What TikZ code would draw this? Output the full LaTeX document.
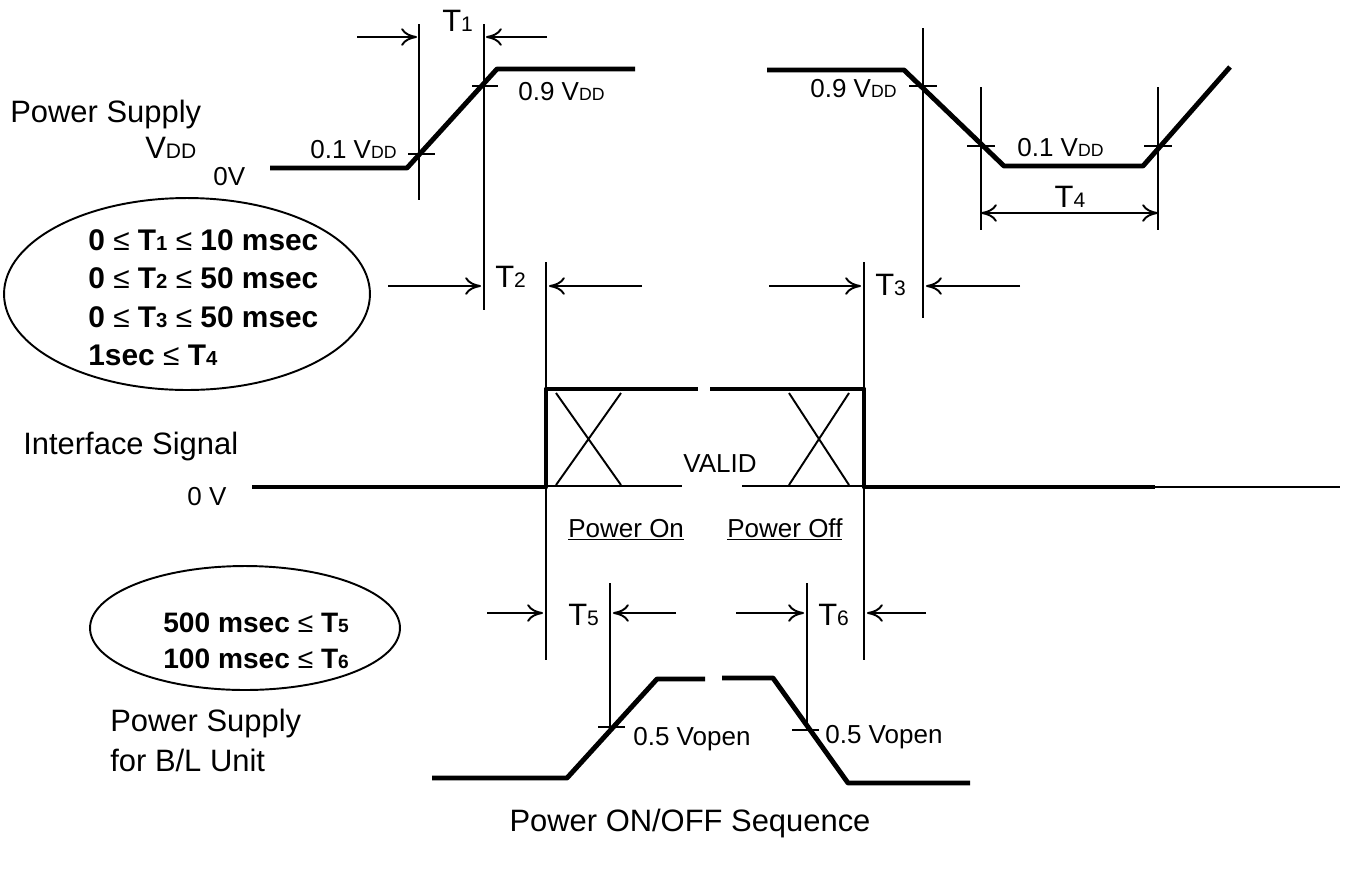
\documentclass[tikz,border=0pt]{standalone}
\usepackage{fontspec}
\setmainfont{Liberation Sans}
\usepackage{graphicx}
\usetikzlibrary{arrows.meta, shapes.geometric, positioning}
\definecolor{cbk}{HTML}{000000}
\newcommand{\sm}[1]{\scalebox{0.68}{#1}}

\begin{document}
\begin{tikzpicture}[x=0.02cm, y=-0.02cm, line join=round, >={To[length=9pt, width=10pt]},
    sig/.style={draw=cbk, line width=2.8pt},
    guide/.style={draw=cbk, line width=1.1pt},
    lbl/.style={inner sep=0pt, font=\fontsize{14.8}{17}\selectfont\color{cbk}},
    bigtxt/.style={inner sep=0pt, font=\fontsize{17.6}{21}\selectfont\color{cbk}},
    boldtxt/.style={inner sep=0pt, anchor=base west, font=\fontsize{17}{20}\selectfont\bfseries\color{cbk}}]
    \useasboundingbox (0,0) rectangle (1349,870);
    % power supply on
    \draw[sig] (270,168) -- (407,168) -- (497,69) -- (635,69);
    \draw[guide] (419,24) -- (419,200) (484,24) -- (484,310) (408,154) -- (435,154) (472,86) -- (498,86);
    \draw[guide, ->] (357,37) -- (417,37);
    \draw[guide, ->] (547,37) -- (486,37);
    % power supply off
    \draw[sig] (767,70) -- (904,70) -- (1004,166) -- (1143,166) -- (1230,67);
    \draw[guide] (923,28) -- (923,318) (909,86) -- (937,86);
    \foreach \x in {981,1158} \draw[guide] (\x,87) -- (\x,230) (\x-14,146) -- (\x+14,146);
    \draw[guide, <->] (981,213) -- (1158,213);
    % interface signal
    \draw[sig] (252,487) -- (546,487) -- (546,389) -- (698,389);
    \draw[sig] (710,389) -- (864,389) -- (864,487) -- (1155,487);
    \draw[guide] (1155,487) -- (1340,487) (546,486) -- (682,486) (742,486) -- (864,486);
    \foreach \a/\b in {556/621, 789/849} \draw[guide] (\a,393) -- (\b,485) (\b,393) -- (\a,485);
    \draw[guide] (546,262) -- (546,660) (864,262) -- (864,660);
    \draw[guide, ->] (388,286) -- (481,286);
    \draw[guide, ->] (642,286) -- (549,286);
    \draw[guide, ->] (769,286) -- (861,286);
    \draw[guide, ->] (1020,286) -- (926,286);
    % B/L unit
    \draw[sig] (432,778) -- (567,778) -- (657,679) -- (705,679);
    \draw[sig] (722,678) -- (773,678) -- (848,783) -- (970,783);
    \draw[guide] (610,583) -- (610,727) (598,727) -- (625,727) (807,583) -- (807,730) (792,730) -- (819,730);
    \draw[guide, ->] (487,613) -- (543,613);
    \draw[guide, ->] (676,613) -- (613,613);
    \draw[guide, ->] (736,613) -- (804,613);
    \draw[guide, ->] (926,613) -- (867,613);
    % labels
    \node (ps) [bigtxt, anchor=base west] at (10,122) {Power Supply};
    \node (vdd) [bigtxt, anchor=base west] at (145,158) {V\sm{DD}};
    \node (zv) [lbl, anchor=north west] at (213,167) {0V};
    \node (lo1) [lbl, anchor=base west] at (310,158) {0.1 V\sm{DD}};
    \node (hi1) [lbl, anchor=base west] at (518,100) {0.9 V\sm{DD}};
    \node (t1) [bigtxt, anchor=base west] at (442,31) {T\sm{1}};
    \node (hi2) [lbl, anchor=base west] at (810,97) {0.9 V\sm{DD}};
    \node (lo2) [lbl, anchor=base west] at (1017,156) {0.1 V\sm{DD}};
    \node (t4) [bigtxt, anchor=base] at (1070,207) {T\sm{4}};
    \node (t2) [bigtxt, anchor=base west] at (495,287) {T\sm{2}};
    \node (t3) [bigtxt, anchor=base west] at (875,295) {T\sm{3}};
    \node (ifs) [bigtxt, anchor=base west] at (23,454) {Interface Signal};
    \node (zv2) [lbl, anchor=north west] at (187,487) {0 V};
    \node (valid) [lbl, anchor=base] at (720,472) {VALID};
    \node (pon) [lbl, anchor=base west] at (568,537) {\underline{Power On}};
    \node (poff) [lbl, anchor=base west] at (727,537) {\underline{Power Off}};
    \node (t5) [bigtxt, anchor=base west] at (568,625) {T\sm{5}};
    \node (t6) [bigtxt, anchor=base west] at (818,625) {T\sm{6}};
    \node (vo1) [lbl, anchor=base west] at (633,745) {0.5 Vopen};
    \node (vo2) [lbl, anchor=base west] at (825,743) {0.5 Vopen};
    \node (bl1) [bigtxt, anchor=base west] at (110,731) {Power Supply};
    \node (bl2) [bigtxt, anchor=base west] at (110,771) {for B/L Unit};
    \node (title) [bigtxt] at (690,823) {Power ON/OFF Sequence};
    % limits
    \node (lim1) [ellipse, draw=cbk, line width=1.1pt, minimum width=7.32cm, minimum height=3.84cm] at (187,294) {};
    \node (e1) [boldtxt] at (88,250) {0 {\mdseries ≤} T\sm{1} {\mdseries ≤} 10 msec};
    \node (e2) [boldtxt] at (88,288) {0 {\mdseries ≤} T\sm{2} {\mdseries ≤} 50 msec};
    \node (e3) [boldtxt] at (88,327) {0 {\mdseries ≤} T\sm{3} {\mdseries ≤} 50 msec};
    \node (e4) [boldtxt] at (88,365) {1sec {\mdseries ≤} T\sm{4}};
    \node (lim2) [ellipse, draw=cbk, line width=1.1pt, minimum width=6.2cm, minimum height=2.48cm] at (245,628) {};
    \node (e5) [boldtxt, font=\fontsize{16}{19}\selectfont\bfseries] at (163,632) {500 msec {\mdseries ≤} T\sm{5}};
    \node (e6) [boldtxt, font=\fontsize{16}{19}\selectfont\bfseries] at (163,668) {100 msec {\mdseries ≤} T\sm{6}};
\end{tikzpicture}
\end{document}
